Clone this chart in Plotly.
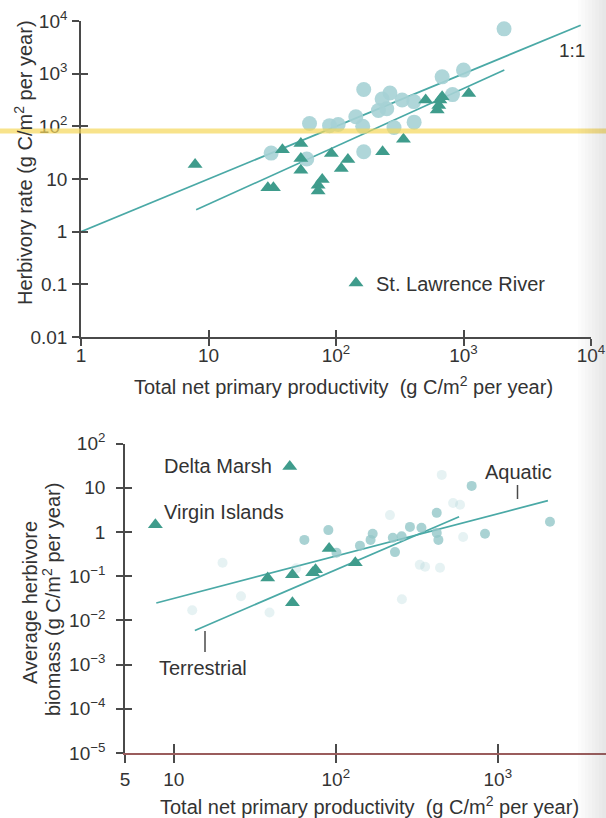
import plotly.graph_objects as go

W, H = 606, 818

# ---------------- upper panel: herbivory rate vs. net primary productivity ----------------
# terrestrial / aquatic communities (circles)
top_circle_npp = [2080, 1000, 680, 820, 165, 265, 230, 330, 408, 250, 215, 143,
                  62, 89, 104, 162, 285, 410, 31, 59, 165]
top_circle_herb = [7100, 1170, 870, 400, 500, 430, 330, 316, 295, 215, 200, 152,
                   113, 103, 108, 100, 95, 120, 31, 24, 33]

# St. Lawrence River sites (triangles)
top_tri_npp = [7.85, 29.2, 32.3, 38, 53, 53, 53, 92, 124, 110, 78, 72.4, 72.4,
               232, 338, 505, 622, 653, 680, 640, 1100]
top_tri_herb = [18.9, 6.8, 6.8, 36, 47, 24.5, 14.7, 30.5, 23.4, 15.8, 9.8, 7.6, 5.9,
                32.8, 57, 316, 204, 316, 363, 250, 422]

# 1:1 line and fitted line
one_to_one_x = [1, 8300]
one_to_one_y = [1, 8300]
fit_top_x = [8.0, 2090]
fit_top_y = [2.6, 1170]

top_xticks = [1, 10, 100, 1000, 10000]
top_xticktext = ["1", "10", "10<sup>2</sup>", "10<sup>3</sup>", "10<sup>4</sup>"]
top_yticks = [0.01, 0.1, 1, 10, 100, 1000, 10000]
top_yticktext = ["0.01", "0.1", "1", "10", "10<sup>2</sup>", "10<sup>3</sup>", "10<sup>4</sup>"]

# ---------------- lower panel: herbivore biomass vs. net primary productivity ----------------
bot_circle_npp = [90, 64, 169, 164, 141, 225, 287, 232, 101, 690, 2100, 834,
                  420, 338, 420, 430, 255]
bot_circle_bio = [1.1, 0.66, 0.91, 0.66, 0.49, 0.74, 1.3, 0.35, 0.34, 11, 1.7, 0.91,
                  2.7, 1.24, 0.95, 0.66, 0.8]
# faded points
bot_faint_npp = [451, 530, 585, 611, 440, 356, 20, 216, 256, 13, 26, 39, 330, 57]
bot_faint_bio = [19.5, 4.5, 4.1, 0.77, 0.155, 0.163, 0.2, 2.4, 0.03, 0.017, 0.035,
                 0.015, 0.18, 0.15]

bot_tri_npp = [52, 7.7, 91, 132, 75, 72, 54, 38, 54]
bot_tri_bio = [30, 1.45, 0.42, 0.2, 0.14, 0.12, 0.107, 0.091, 0.025]

aquatic_x = [7.8, 2040]
aquatic_y = [0.0247, 5.1]
terrestrial_x = [13.5, 577]
terrestrial_y = [0.0059, 2.2]

bot_xticks = [5, 10, 100, 1000]
bot_xticktext = ["5", "10", "10<sup>2</sup>", "10<sup>3</sup>"]
bot_yticks = [1e-5, 1e-4, 1e-3, 1e-2, 1e-1, 1, 10, 100]
bot_yticktext = ["10<sup>−5</sup>", "10<sup>−4</sup>", "10<sup>−3</sup>", "10<sup>−2</sup>",
                 "10<sup>−1</sup>", "1", "10", "10<sup>2</sup>"]

# ---------------- styling ----------------
FONT = "Liberation Sans, Arial, Helvetica, sans-serif"
TXT = "#333333"
AX = "#4a4a4a"
LINE = "#4aa9a6"
TRI = "#3f9c8c"
CIRC = "#a6d1d5"
CIRC2 = "#93c7c8"


def px(x):
    return x / W


def py(y):
    return 1 - y / H


fig = go.Figure()

# upper panel traces
fig.add_trace(go.Scatter(x=one_to_one_x, y=one_to_one_y, mode="lines",
                         line=dict(color=LINE, width=1.7), showlegend=False,
                         xaxis="x", yaxis="y"))
fig.add_trace(go.Scatter(x=fit_top_x, y=fit_top_y, mode="lines",
                         line=dict(color=LINE, width=1.7), showlegend=False,
                         xaxis="x", yaxis="y"))
fig.add_trace(go.Scatter(x=top_circle_npp, y=top_circle_herb, mode="markers",
                         marker=dict(symbol="circle", size=15, color=CIRC, opacity=0.9,
                                     line=dict(width=0)),
                         showlegend=False, xaxis="x", yaxis="y"))
fig.add_trace(go.Scatter(x=top_tri_npp, y=top_tri_herb, mode="markers",
                         name="St. Lawrence River",
                         marker=dict(symbol="triangle-up", size=13, color=TRI,
                                     line=dict(width=0)),
                         showlegend=True, xaxis="x", yaxis="y"))

# lower panel traces
fig.add_trace(go.Scatter(x=aquatic_x, y=aquatic_y, mode="lines",
                         line=dict(color=LINE, width=1.7), showlegend=False,
                         xaxis="x2", yaxis="y2"))
fig.add_trace(go.Scatter(x=terrestrial_x, y=terrestrial_y, mode="lines",
                         line=dict(color=LINE, width=1.7), showlegend=False,
                         xaxis="x2", yaxis="y2"))
fig.add_trace(go.Scatter(x=bot_faint_npp, y=bot_faint_bio, mode="markers",
                         marker=dict(symbol="circle", size=10, color=CIRC, opacity=0.28,
                                     line=dict(width=0)),
                         showlegend=False, xaxis="x2", yaxis="y2"))
fig.add_trace(go.Scatter(x=bot_circle_npp, y=bot_circle_bio, mode="markers",
                         marker=dict(symbol="circle", size=10, color=CIRC2, opacity=0.8,
                                     line=dict(width=0)),
                         showlegend=False, xaxis="x2", yaxis="y2"))
fig.add_trace(go.Scatter(x=bot_tri_npp, y=bot_tri_bio, mode="markers",
                         marker=dict(symbol="triangle-up", size=13, color=TRI,
                                     line=dict(width=0)),
                         showlegend=False, xaxis="x2", yaxis="y2"))

# empty traces that carry the inner half of the crossing tick marks
for xa, ya in (("x3", "y3"), ("x4", "y4")):
    fig.add_trace(go.Scatter(x=[], y=[], mode="markers", showlegend=False,
                             xaxis=xa, yaxis=ya, hoverinfo="skip"))

top_xdom = [px(81), px(591)]
top_ydom = [py(337), py(21)]
bot_xdom = [px(125), 1.0]
bot_ydom = [py(753), py(443.5)]
bot_xrange = [0.69897, 0.69897 + (W - 125) / 162.0]

tickfont = dict(family=FONT, size=19, color=TXT)
common = dict(type="log", showgrid=False, zeroline=False, automargin=False,
              tickfont=tickfont)

fig.update_layout(
    template="none",
    width=W, height=H,
    margin=dict(l=0, r=0, t=0, b=0),
    paper_bgcolor="white", plot_bgcolor="rgba(0,0,0,0)",
    font=dict(family=FONT, size=19, color=TXT),
    showlegend=True,
    legend=dict(x=px(336), y=py(283), xanchor="left", yanchor="middle",
                bgcolor="rgba(0,0,0,0)", borderwidth=0,
                font=dict(family=FONT, size=20, color=TXT),
                itemwidth=30, tracegroupgap=0),
    xaxis=dict(**common, domain=top_xdom, range=[0, 4], anchor="y",
               showline=True, linecolor=AX, linewidth=1.6,
               ticks="outside", ticklen=7, tickwidth=1.5, tickcolor=AX,
               tickvals=top_xticks, ticktext=top_xticktext, ticklabelstandoff=-7),
    yaxis=dict(**common, domain=top_ydom, range=[-2, 4], anchor="x",
               showline=True, linecolor=AX, linewidth=1.6,
               ticks="outside", ticklen=7, tickwidth=1.5, tickcolor=AX,
               tickvals=top_yticks, ticktext=top_yticktext, ticklabelstandoff=1),
    xaxis3=dict(**common, domain=top_xdom, range=[0, 4], overlaying="x", anchor="y3",
                showline=False, ticks="inside", ticklen=7, tickwidth=1.5, tickcolor=AX,
                tickvals=[10, 100, 1000], showticklabels=False),
    yaxis3=dict(**common, domain=top_ydom, range=[-2, 4], overlaying="y", anchor="x3",
                showline=False, ticks="inside", ticklen=7, tickwidth=1.5, tickcolor=AX,
                tickvals=[0.1, 1, 10, 100, 1000], showticklabels=False),
    xaxis2=dict(**common, domain=bot_xdom, range=bot_xrange, anchor="y2",
                showline=True, linecolor="#9a5c5c", linewidth=1.6,
                ticks="outside", ticklen=8, tickwidth=1.5, tickcolor=AX,
                tickvals=bot_xticks, ticktext=bot_xticktext, ticklabelstandoff=0),
    yaxis2=dict(**common, domain=bot_ydom, range=[-5, 2], anchor="x2",
                showline=True, linecolor=AX, linewidth=1.6,
                ticks="outside", ticklen=7, tickwidth=1.5, tickcolor=AX,
                tickvals=bot_yticks, ticktext=bot_yticktext, ticklabelstandoff=7),
    xaxis4=dict(**common, domain=bot_xdom, range=bot_xrange, overlaying="x2", anchor="y4",
                showline=False, ticks="inside", ticklen=9, tickwidth=1.5, tickcolor=AX,
                tickvals=[10, 100, 1000], showticklabels=False),
    yaxis4=dict(**common, domain=bot_ydom, range=[-5, 2], overlaying="y2", anchor="x4",
                showline=False, ticks="inside", ticklen=7, tickwidth=1.5, tickcolor=AX,
                tickvals=[1e-4, 1e-3, 1e-2, 1e-1, 1, 10], showticklabels=False),
)

ann = []


def label(text, x, y, size=19, angle=0, xanchor="center"):
    ann.append(dict(text=text, x=px(x), y=py(y), xref="paper", yref="paper",
                    showarrow=False, textangle=angle, xanchor=xanchor, yanchor="middle",
                    font=dict(family=FONT, size=size, color=TXT)))


# axis titles
label("Herbivory rate (g C/m<sup>2</sup> per year)", 23, 163, size=20, angle=-90)
label("Total net primary productivity  (g C/m<sup>2</sup> per year)", 343, 385, size=20)
label("Average herbivore", 30, 603, size=20, angle=-90)
label("biomass (g C/m<sup>2</sup> per year)", 51, 600, size=20, angle=-90)
label("Total net primary productivity  (g C/m<sup>2</sup> per year)", 369, 805, size=20)

# in-plot labels
label("1:1", 572, 50, size=19)
label("Delta Marsh", 218, 466, size=20)
label("Virgin Islands", 224, 512, size=20)
label("Aquatic", 518, 472, size=20)
label("Terrestrial", 203, 668, size=20)

fig.update_layout(annotations=ann)

shapes = [
    # leader ticks under the line labels
    dict(type="line", xref="paper", yref="paper", x0=px(517.5), x1=px(517.5),
         y0=py(485), y1=py(499), line=dict(color=AX, width=1.5)),
    dict(type="line", xref="paper", yref="paper", x0=px(205), x1=px(205),
         y0=py(631), y1=py(652), line=dict(color=AX, width=1.5)),
    # yellow highlighter stripe across the upper panel
    dict(type="line", xref="paper", yref="paper", x0=0, x1=1, y0=py(131), y1=py(131),
         line=dict(color="rgba(245,215,90,0.7)", width=5), layer="above"),
]
# darker paper edge on the right, fading in towards the border
for i in range(8):
    x0 = px(578 + i * 3.5)
    shapes.append(dict(type="rect", xref="paper", yref="paper", x0=x0, x1=1,
                       y0=0, y1=1, fillcolor="rgba(130,130,130,0.022)",
                       line=dict(width=0), layer="above"))
fig.update_layout(shapes=shapes)

fig.write_html("out.html")
